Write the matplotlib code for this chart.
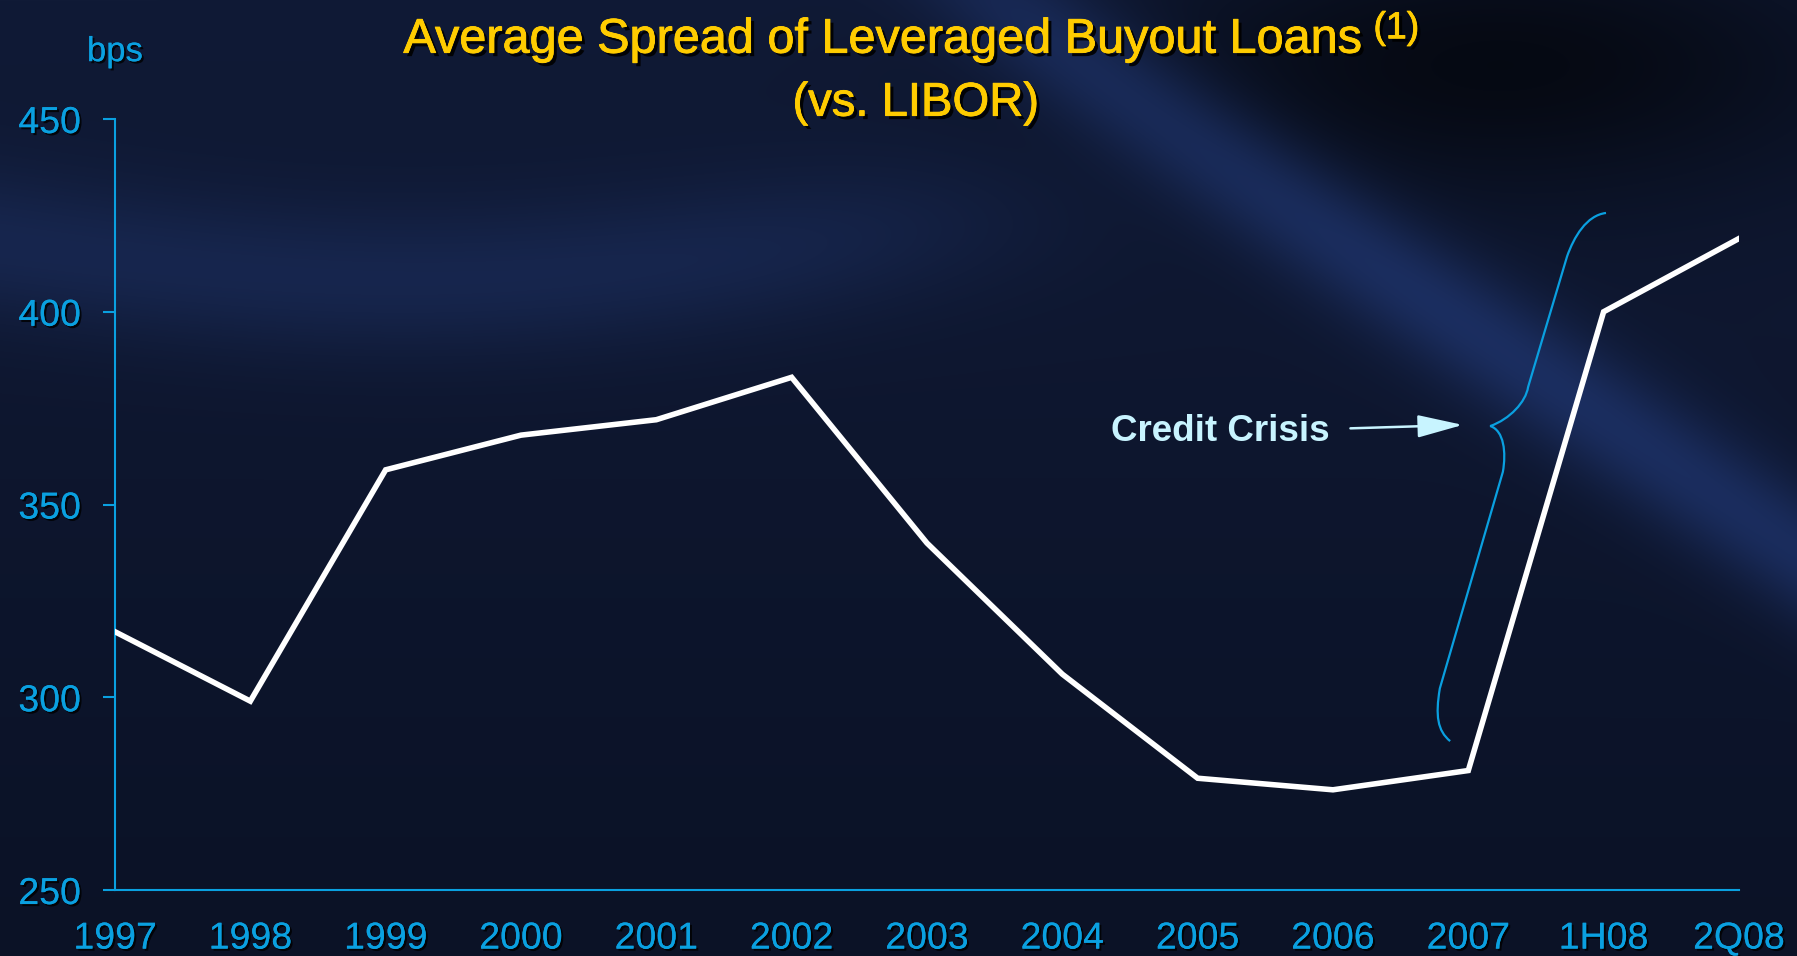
import matplotlib
matplotlib.use('Agg')
import matplotlib.pyplot as plt
import matplotlib.patheffects as pe
from matplotlib.path import Path
from matplotlib.patches import PathPatch, FancyArrowPatch
import numpy as np

periods = ['1997', '1998', '1999', '2000', '2001', '2002', '2003',
           '2004', '2005', '2006', '2007', '1H08', '2Q08']
spread_bps = [317, 299, 359, 368, 372, 383, 340, 306, 279, 276, 281, 400, 419]
y_ticks = [250, 300, 350, 400, 450]

W, H, DPI = 1797, 956, 100
BLUE = '#0aa0e0'
GOLD = '#ffcc00'
PALE = '#c8f4ff'
NUM_FONT = ['Liberation Sans Narrow', 'Liberation Sans', 'DejaVu Sans']
TXT_FONT = ['Liberation Sans', 'DejaVu Sans']

fig = plt.figure(figsize=(W / DPI, H / DPI), dpi=DPI)

# background: dark navy with soft light bands
Y, X = np.mgrid[0:H, 0:W].astype(float)
img = np.zeros((H, W, 3)) + np.array([11, 18, 38])
img += (1 - Y / H)[..., None] * np.array([5, 8, 16])
dark = np.exp(-(((X - 1500) / 380) ** 2 + ((Y - 60) / 140) ** 2))
img -= dark[..., None] * np.array([10, 16, 34])
yc = 69 + 0.68 * (X - 1089)
streak = np.exp(-((Y - yc) / 70) ** 2) / (1 + np.exp(-(X - 950) / 60))
img += streak[..., None] * np.array([13, 23, 48])
yc2 = 245 + 35 * np.sin(X / 260)
band = np.exp(-((Y - yc2) / 75) ** 2) / (1 + np.exp((X - 950) / 90))
img += band[..., None] * np.array([8, 14, 28])
img = np.clip(img, 0, 255) / 255

bg = fig.add_axes([0, 0, 1, 1])
bg.imshow(img, aspect='auto', extent=(0, 1, 0, 1), zorder=0)
bg.axis('off')

ax = fig.add_axes([115 / W, 0.069, 0.9037, 0.8065])
ax.patch.set_alpha(0)
x = np.arange(len(periods))
ax.plot(x, spread_bps, color='white', lw=4, solid_joinstyle='miter', zorder=3)

ax.set_xlim(0, len(periods) - 1)
ax.set_ylim(y_ticks[0], y_ticks[-1])
ax.set_xticks(x)
ax.set_xticklabels(periods)
ax.set_yticks(y_ticks)
for s in ['top', 'right']:
    ax.spines[s].set_visible(False)
for s in ['left', 'bottom']:
    ax.spines[s].set_color(BLUE)
    ax.spines[s].set_linewidth(1.5)
ax.tick_params(axis='x', length=0, pad=22, colors=BLUE)
ax.tick_params(axis='y', length=8.5, width=1.5, direction='out', pad=16, colors=BLUE)
shadow = [pe.withSimplePatchShadow(offset=(1.5, -1.5), shadow_rgbFace='black', alpha=0.8), pe.Normal()]
for lab in ax.get_xticklabels() + ax.get_yticklabels():
    lab.set_fontfamily(NUM_FONT)
    lab.set_fontsize(27)
    lab.set_path_effects(shadow)

# titles
tshadow = [pe.withSimplePatchShadow(offset=(2.5, -2.5), shadow_rgbFace='black', alpha=0.9),
           pe.withStroke(linewidth=0.6, foreground=GOLD)]
t1 = fig.text(0.2245, 0.9449, 'Average Spread of Leveraged Buyout Loans', color=GOLD,
              fontsize=35, family=TXT_FONT, ha='left', va='baseline', path_effects=tshadow)
fig.text(0.5096, 0.879, '(vs. LIBOR)', color=GOLD, fontsize=34, family=TXT_FONT,
         ha='center', va='baseline', path_effects=tshadow)
r = fig.canvas.get_renderer()
bb = t1.get_window_extent(renderer=r)
fig.text((bb.x1 + 11) / W, 0.96, '(1)', color=GOLD, fontsize=27, family=TXT_FONT,
         ha='left', va='baseline', path_effects=tshadow)

fig.text(115 / W, 0.946, 'bps', color=BLUE, fontsize=25, family=NUM_FONT,
         ha='center', va='center', path_effects=shadow)

# credit crisis annotation (axes fractions)
def af(px, py):
    return ((px - 100) / 1417, (777 - py) / 673)

brace_pts = [(1401, 186), (1384, 188), (1373, 207), (1367, 224),
             (1333, 338), (1331, 351), (1317, 366), (1300, 372),
             (1312, 376), (1314, 395), (1311, 412),
             (1256, 601), (1252, 625), (1254, 638), (1265, 647)]
codes = [Path.MOVETO, Path.CURVE4, Path.CURVE4, Path.CURVE4,
         Path.LINETO, Path.CURVE4, Path.CURVE4, Path.CURVE4,
         Path.CURVE4, Path.CURVE4, Path.CURVE4,
         Path.LINETO, Path.CURVE4, Path.CURVE4, Path.CURVE4]
brace = PathPatch(Path([af(*p) for p in brace_pts], codes), transform=ax.transAxes,
                  fill=False, edgecolor=BLUE, lw=1.6, clip_on=False, zorder=2)
ax.add_patch(brace)

arrow = FancyArrowPatch(af(1178, 374), af(1276, 371), transform=ax.transAxes,
                        arrowstyle='-|>,head_length=2.0,head_width=0.5',
                        color=PALE, lw=1.8, mutation_scale=14, shrinkA=0, shrinkB=0)
ax.add_patch(arrow)
ax.text(*af(1160, 377), 'Credit Crisis', transform=ax.transAxes, color=PALE,
        fontsize=26.5, fontweight='bold', family=TXT_FONT, ha='right', va='center')

fig.savefig('out.png', dpi=DPI)
